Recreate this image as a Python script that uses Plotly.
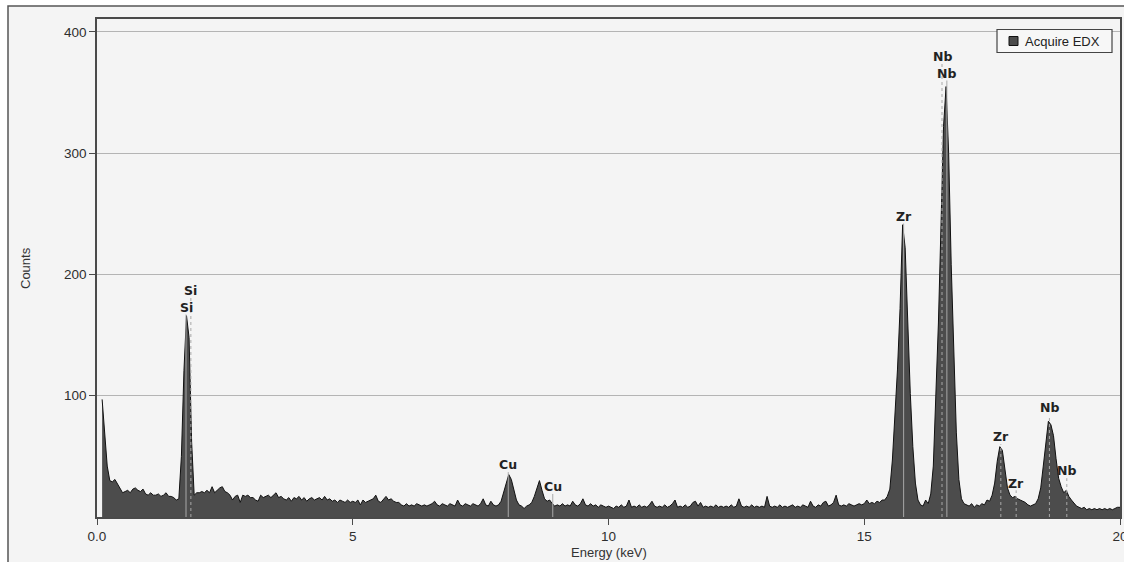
import numpy as np
import plotly.graph_objects as go

# EDX spectrum, one value every 0.05 keV starting at 0.10 keV
E_START = 0.10
E_STEP = 0.05

counts_low = [  # 0.10 - 4.95 keV
    97, 70, 42, 30, 29, 31, 27, 23, 20, 21, 22, 20, 23, 24, 22, 21, 23, 19,
    18, 20, 18, 18, 19, 17, 18, 20, 17, 17, 16, 14, 15, 50, 121, 166, 148, 62, 18, 20,
    20, 21, 20, 22, 20, 25, 20, 22, 24, 25, 21, 20, 18, 14, 17, 18, 12, 18, 17, 18,
    16, 16, 14, 13, 18, 16, 17, 18, 16, 18, 20, 16, 17, 15, 14, 16, 13, 16, 15, 17,
    14, 16, 13, 15, 16, 14, 15, 16, 14, 17, 14, 15, 13, 14, 12, 14, 13, 12, 14, 12,
]
counts_mid = [  # 5.00 - 9.95 keV
    13, 12, 14, 10, 14, 12, 13, 14, 15, 18, 13, 12, 15, 17, 14, 15, 13, 12, 12, 10,
    9, 11, 9, 10, 9, 11, 10, 9, 10, 9, 10, 11, 13, 10, 9, 11, 10, 9, 11, 10,
    9, 14, 10, 9, 11, 10, 9, 11, 10, 9, 11, 15, 10, 9, 13, 10, 9, 10, 13, 20,
    28, 35, 31, 22, 14, 10, 9, 7, 9, 10, 12, 17, 23, 30, 22, 15, 13, 14, 11, 9,
    10, 9, 11, 9, 10, 9, 13, 10, 9, 11, 15, 10, 9, 11, 9, 10, 8, 10, 9, 8,
]
counts_high = [  # 10.00 - 14.95 keV
    9, 8, 7, 9, 8, 10, 8, 9, 14, 8, 9, 8, 10, 8, 9, 8, 10, 13, 9, 8,
    9, 8, 10, 8, 9, 11, 14, 8, 9, 8, 10, 8, 9, 12, 13, 9, 12, 8, 9, 8,
    9, 8, 10, 8, 9, 8, 9, 8, 10, 8, 9, 15, 9, 8, 9, 8, 10, 8, 9, 8,
    9, 8, 17, 9, 8, 9, 8, 10, 8, 9, 8, 9, 10, 8, 9, 8, 10, 9, 8, 13,
    9, 8, 10, 9, 12, 13, 9, 10, 12, 18, 10, 9, 10, 9, 11, 10, 9, 10, 11, 10,
]
counts_peaks = [  # 15.00 - 20.00 keV
    11, 14, 11, 12, 11, 13, 12, 14, 14, 17, 23, 47, 82, 122, 172, 241, 222, 157, 102, 58,
    28, 14, 10, 9, 14, 11, 19, 42, 95, 160, 240, 322, 355, 300, 208, 130, 70, 31, 15, 11,
    10, 9, 11, 8, 10, 9, 11, 10, 14, 13, 18, 28, 46, 58, 55, 38, 24, 18, 16, 17,
    15, 14, 13, 12, 10, 9, 10, 11, 15, 24, 42, 62, 79, 76, 67, 48, 32, 25, 20, 22,
    17, 14, 11, 9, 8, 7, 8, 6, 7, 6, 7, 6, 7, 6, 7, 6, 7, 6, 7, 8,
    8,
]

# Element line markers: energy (keV), label, label height (counts), dashed?
line_energy = [1.74, 1.835, 8.04, 8.91, 15.77, 16.52, 16.615, 17.67, 17.97, 18.62, 18.96]
line_label = ["Si", "Si", "Cu", "Cu", "Zr", "Nb", "Nb", "Zr", "Zr", "Nb", "Nb"]
label_height = [173, 187, 43, 25, 248, 380, 366, 66, 28, 90, 38]
line_dashed = [False, True, False, False, False, True, False, True, True, True, True]

x_tickvals = [0, 5, 10, 15, 20]
x_ticktext = ["0.0", "5", "10", "15", "20"]
y_tickvals = [100, 200, 300, 400]

counts = counts_low + counts_mid + counts_high + counts_peaks
energy = np.round(E_START + E_STEP * np.arange(len(counts)), 3)

# plot-area geometry in pixels (for paper-coordinate decorations)
W, H = 1124, 562
ML, MR, MT, MB = 97, 4, 19, 45
PW, PH = W - ML - MR, H - MT - MB


def px(x):
    return (x - ML) / PW


def py(y):
    return (H - MB - y) / PH


TICK_FONT = dict(family="Liberation Sans, Arial, sans-serif", size=13.5, color="#2e2e2e")

fig = go.Figure()
fig.add_trace(go.Scatter(
    x=energy, y=counts, mode="lines", fill="tozeroy",
    fillcolor="#4c4c4c", line=dict(color="#111111", width=1),
    showlegend=False, hoverinfo="skip",
))

shapes = [
    # outer panel
    dict(type="rect", xref="paper", yref="paper", layer="below",
         x0=px(8), x1=px(1140), y0=py(6), y1=py(600),
         fillcolor="#f4f4f4", line=dict(color="#555555", width=1.5)),
]
for e, lab_y, dashed in zip(line_energy, label_height, line_dashed):
    shapes.append(dict(
        type="line", xref="x", yref="y", layer="above",
        x0=e, x1=e, y0=0, y1=lab_y - 6,
        line=dict(color="#a8a8a8", width=1, dash="dot" if dashed else "solid"),
    ))

# legend box
shapes += [
    dict(type="rect", xref="paper", yref="paper", layer="above",
         x0=px(997), x1=px(1112), y0=py(52.5), y1=py(29.5),
         fillcolor="#f7f7f7", line=dict(color="#444444", width=1.2)),
    dict(type="rect", xref="paper", yref="paper", layer="above",
         x0=px(1009), x1=px(1018), y0=py(45.5), y1=py(36.5),
         fillcolor="#4c4c4c", line=dict(color="#111111", width=1)),
]

annotations = []
for e, lab, lab_y in zip(line_energy, line_label, label_height):
    annotations.append(dict(
        x=e, y=lab_y, xref="x", yref="y", text=lab, showarrow=False,
        xanchor="center", yanchor="middle",
        font=dict(family="DejaVu Sans, sans-serif", size=12.5, color="#222222", weight="bold"),
    ))
annotations += [
    dict(x=px(1023), y=py(41), xref="paper", yref="paper", text="Acquire EDX",
         showarrow=False, xanchor="left", yanchor="middle",
         font=dict(family="Liberation Sans, Arial, sans-serif", size=13, color="#222222")),
    dict(x=px(25), y=0.5, xref="paper", yref="paper", text="Counts", textangle=-90,
         showarrow=False, xanchor="center", yanchor="middle",
         font=dict(family="Liberation Sans, Arial, sans-serif", size=13, color="#333333")),
    dict(x=0.5, y=py(552), xref="paper", yref="paper", text="Energy (keV)",
         showarrow=False, xanchor="center", yanchor="middle",
         font=dict(family="Liberation Sans, Arial, sans-serif", size=13, color="#333333")),
]

fig.update_layout(
    width=W, height=H,
    margin=dict(l=ML, r=MR, t=MT, b=MB, pad=0, autoexpand=False),
    paper_bgcolor="#ffffff",
    plot_bgcolor="#eeeeee",
    showlegend=False,
    shapes=shapes,
    annotations=annotations,
    xaxis=dict(
        range=[0, 20], tickvals=x_tickvals, ticktext=x_ticktext,
        showgrid=False, zeroline=False, automargin=False,
        showline=True, mirror=True, linecolor="#4a4a4a", linewidth=1.5,
        ticks="outside", ticklen=6, tickcolor="#4a4a4a", tickwidth=1,
        tickfont=TICK_FONT, ticklabeloverflow="allow",
    ),
    yaxis=dict(
        range=[0, 410.7], tickvals=y_tickvals, automargin=False,
        showgrid=True, gridcolor="#b4b4b4", gridwidth=1, zeroline=False,
        showline=True, mirror=True, linecolor="#4a4a4a", linewidth=1.5,
        ticks="outside", ticklen=6, tickcolor="#4a4a4a", tickwidth=1,
        tickfont=TICK_FONT,
    ),
)

fig.write_html("out.html")
